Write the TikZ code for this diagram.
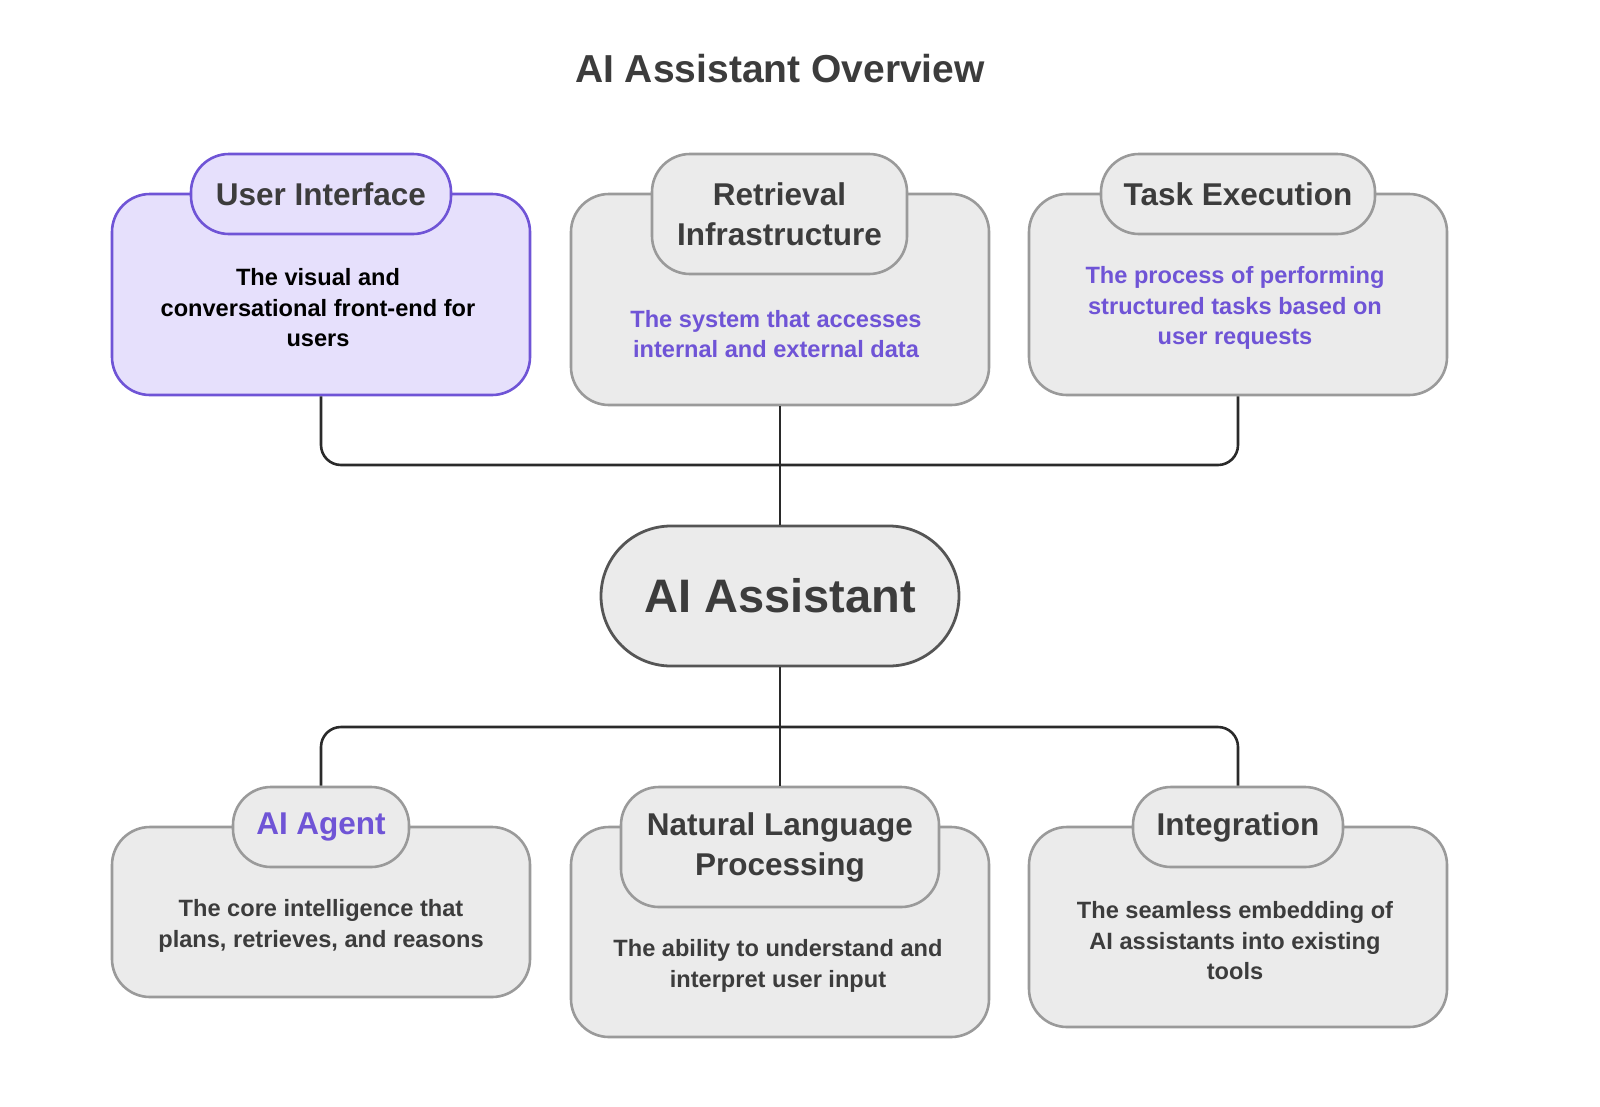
\documentclass[tikz,border=0pt]{standalone}
\usepackage{fontspec}
\setmainfont{Liberation Sans}
\definecolor{boxfill}{HTML}{EBEBEB}
\definecolor{boxdraw}{HTML}{9A9A9A}
\definecolor{uifill}{HTML}{E6E0FC}
\definecolor{purp}{HTML}{6F54D6}
\definecolor{txt}{HTML}{3C3C3C}
\definecolor{conn}{HTML}{2A2A2A}
\definecolor{hubdraw}{HTML}{555555}
\begin{document}
\begin{tikzpicture}[x=1pt,y=-1pt,
  outer/.style={draw=boxdraw,fill=boxfill,line width=2.6pt,rounded corners=38pt,inner sep=0pt,minimum width=418pt},
  tab/.style={draw=boxdraw,fill=boxfill,line width=2.6pt,rounded corners=38pt,inner sep=0pt,minimum height=80pt,align=center,text=txt,font=\bfseries\fontsize{31.5}{40}\selectfont},
  uiouter/.style={outer,draw=purp,fill=uifill},
  uitab/.style={tab,draw=purp,fill=uifill},
  desc/.style={align=center,inner sep=0pt,text=txt,font=\bfseries\fontsize{23.6}{30.5}\selectfont},
  pdesc/.style={desc,text=purp},
  link/.style={draw=conn,line width=2.6pt,rounded corners=20pt},
  hub/.style={draw=hubdraw,fill=boxfill,line width=2.8pt,rounded corners=70pt,minimum width=358pt,minimum height=140pt,inner sep=0pt,text=txt,font=\bfseries\fontsize{47}{56}\selectfont}
]
\useasboundingbox (0,0) rectangle (1600,1106);
\node[font=\bfseries\fontsize{39}{46}\selectfont,text=txt] (title) at (780,69) {AI Assistant Overview};

% connectors (drawn first, under boxes)
\coordinate (jt) at (779,465);
\coordinate (jb) at (779,727);

% top row
\node[uiouter,minimum height=201pt] (ui) at (321,294.5) {};
\node[uitab,minimum width=260pt] (uitab) at (321,194) {User Interface};
\node[desc,text=black] (uidesc) at (318,308) {The visual and\\conversational front-end for\\users};

\node[outer,minimum height=211pt] (ret) at (780,299.5) {};
\node[tab,minimum width=255pt,minimum height=120pt] (rettab) at (779.5,214) {Retrieval\\Infrastructure};
\node[pdesc] (retdesc) at (776,334) {The system that accesses\\internal and external data};

\node[outer,minimum height=201pt] (task) at (1238,294.5) {};
\node[tab,minimum width=274pt] (tasktab) at (1238,194) {Task Execution};
\node[pdesc] (taskdesc) at (1235,308) {The process of performing\\structured tasks based on\\user requests};

% hub
\node[hub] (ai) at (780,596) {AI Assistant};

% bottom row
\node[outer,minimum height=170pt] (agent) at (321,912) {};
\node[tab,minimum width=176pt,text=purp] (agenttab) at (321,827) {AI Agent};
\node[desc] (agentdesc) at (321,926) {The core intelligence that\\plans, retrieves, and reasons};

\node[outer,minimum height=210pt] (nlp) at (780,932) {};
\node[tab,minimum width=318pt,minimum height=120pt] (nlptab) at (780,847) {Natural Language\\Processing};
\node[desc] (nlpdesc) at (778,966) {The ability to understand and\\interpret user input};

\node[outer,minimum height=200pt] (int) at (1238,927) {};
\node[tab,minimum width=210pt] (inttab) at (1238,827) {Integration};
\node[desc] (intdesc) at (1235,941) {The seamless embedding of\\AI assistants into existing\\tools};

% connectors
\draw[link] (ui.south) |- (jt);
\draw[link] (task.south) |- (jt);
\draw[link] (ret.south) -- (ai.north);
\draw[link] (ai.south) -- (nlptab.north);
\draw[link] (agenttab.north) |- (jb);
\draw[link] (inttab.north) |- (jb);
\end{tikzpicture}
\end{document}
